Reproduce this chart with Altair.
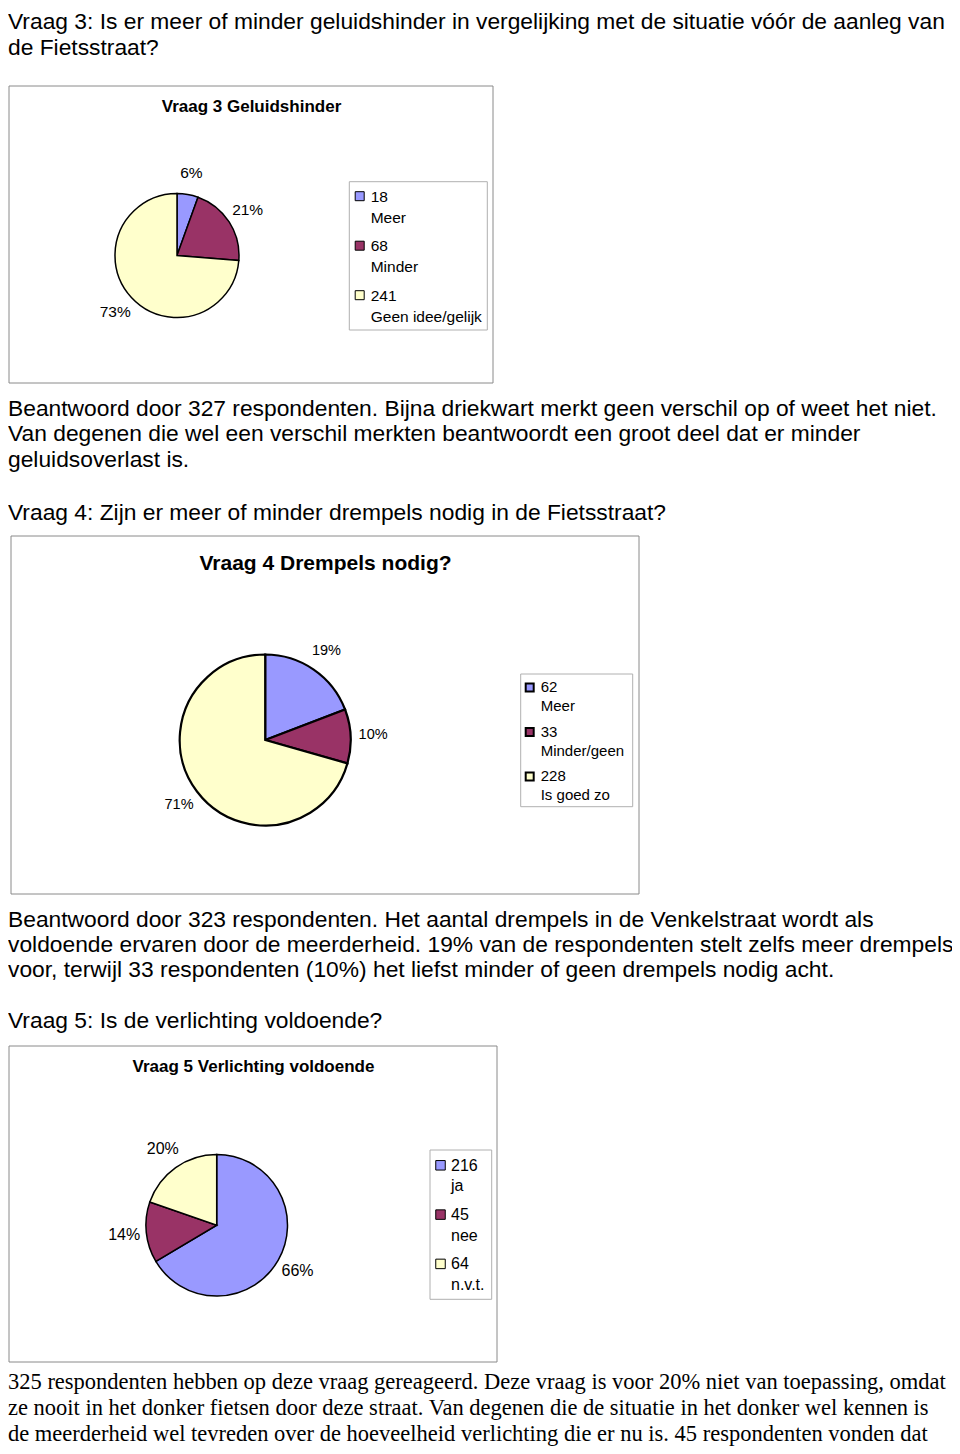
import altair as alt
import pandas as pd

# ---------------- data ----------------
q3_labels = ["Meer", "Minder", "Geen idee/gelijk"]
q3_counts = [18, 68, 241]
q3_pct = ["6%", "21%", "73%"]

q4_labels = ["Meer", "Minder/geen", "Is goed zo"]
q4_counts = [62, 33, 228]
q4_pct = ["19%", "10%", "71%"]

q5_labels = ["ja", "nee", "n.v.t."]
q5_counts = [216, 45, 64]
q5_pct = ["66%", "14%", "20%"]

palette = ["#9999FF", "#993366", "#FFFFCC"]

title_q3 = "Vraag 3 Geluidshinder"
title_q4 = "Vraag 4 Drempels nodig?"
title_q5 = "Vraag 5 Verlichting voldoende"

para_1 = ["Vraag 3: Is er meer of minder geluidshinder in vergelijking met de situatie vóór de aanleg van",
          "de Fietsstraat?"]
para_2 = ["Beantwoord door 327 respondenten. Bijna driekwart merkt geen verschil op of weet het niet.",
          "Van degenen die wel een verschil merkten beantwoordt een groot deel dat er minder",
          "geluidsoverlast is."]
para_3 = ["Vraag 4: Zijn er meer of minder drempels nodig in de Fietsstraat?"]
para_4 = ["Beantwoord door 323 respondenten. Het aantal drempels in de Venkelstraat wordt als",
          "voldoende ervaren door de meerderheid. 19% van de respondenten stelt zelfs meer drempels",
          "voor, terwijl 33 respondenten (10%) het liefst minder of geen drempels nodig acht."]
para_5 = ["Vraag 5: Is de verlichting voldoende?"]
para_6 = ["325 respondenten hebben op deze vraag gereageerd. Deze vraag is voor 20% niet van toepassing, omdat",
          "ze nooit in het donker fietsen door deze straat. Van degenen die de situatie in het donker wel kennen is",
          "de meerderheid wel tevreden over de hoeveelheid verlichting die er nu is. 45 respondenten vonden dat"]

SANS = "Liberation Sans, Arial, Helvetica, sans-serif"
SERIF = "Liberation Serif, Times New Roman, serif"

one = pd.DataFrame({"k": [0]})


def text_block(lines, x, y, size, line_h, font=SANS, weight="normal", align="left"):
    return alt.Chart(one).mark_text(
        text=lines, align=align, baseline="alphabetic", font=font, fontSize=size,
        fontWeight=weight, lineHeight=line_h, color="black"
    ).encode(x=alt.value(x), y=alt.value(y))


def box(x1, x2, y1, y2, stroke="#8a8a8a", sw=1):
    return alt.Chart(one).mark_rect(fill="white", stroke=stroke, strokeWidth=sw).encode(
        x=alt.value(x1), x2=alt.value(x2), y=alt.value(y1), y2=alt.value(y2)
    )


def make_df(labels, counts, pct):
    return pd.DataFrame({"idx": list(range(len(labels))), "label": labels,
                         "count": counts, "pct": pct})


color_enc = alt.Color("idx:N", scale=alt.Scale(domain=[0, 1, 2], range=palette), legend=None)


def pie(df, cx, cy, r, label_r, fsize, sw):
    base = alt.Chart(df).encode(
        theta=alt.Theta("count:Q", stack=True),
        order=alt.Order("idx:Q", sort="ascending"),
        x=alt.value(cx), y=alt.value(cy),
    )
    arcs = base.mark_arc(radius=r, stroke="black", strokeWidth=sw).encode(color=color_enc)
    labels = base.mark_text(radius=label_r, fontSize=fsize, font=SANS, color="black",
                            baseline="middle", align="center").encode(text="pct:N")
    return alt.layer(arcs, labels)


def legend(df, sx, tx, y0, step, line, fsize, sq, sw, sq_dy):
    base = alt.Chart(df).transform_calculate(
        yn=f"{y0} + datum.idx * {step}",
        yl=f"{y0} + datum.idx * {step} + {line}",
        ys=f"{y0} + datum.idx * {step} - {sq_dy}",
    )
    squares = base.mark_square(size=sq * sq, stroke="black", strokeWidth=sw, opacity=1).encode(
        x=alt.value(sx), y=alt.Y("ys:Q", scale=None), color=color_enc)
    nums = base.mark_text(align="left", baseline="alphabetic", font=SANS, fontSize=fsize,
                          color="black").encode(
        x=alt.value(tx), y=alt.Y("yn:Q", scale=None), text="count:Q")
    names = base.mark_text(align="left", baseline="alphabetic", font=SANS, fontSize=fsize,
                           color="black").encode(
        x=alt.value(tx), y=alt.Y("yl:Q", scale=None), text="label:N")
    return alt.layer(squares, nums, names)


df3 = make_df(q3_labels, q3_counts, q3_pct)
df4 = make_df(q4_labels, q4_counts, q4_pct)
df5 = make_df(q5_labels, q5_counts, q5_pct)

layers = [
    # paragraphs
    text_block(para_1, 0, 21, 22.8, 26),
    text_block(para_2, 0, 407.5, 22.8, 25.75),
    text_block(para_3, 0, 511.5, 22.8, 26),
    text_block(para_4, 0, 918.7, 22.8, 25.15),
    text_block(para_5, 0, 1020, 22.8, 26),
    text_block(para_6, 0, 1380.5, 22.5, 26, font=SERIF),
    # chart frames
    box(1, 485, 78, 375),
    box(3, 631, 528, 886),
    box(1, 489, 1038, 1354),
    # titles
    text_block([title_q3], 243.5, 104.3, 17, 20, weight="bold", align="center"),
    text_block([title_q4], 317.5, 562, 21, 24, weight="bold", align="center"),
    text_block([title_q5], 245.5, 1064.3, 17, 20, weight="bold", align="center"),
    # legend frames
    box(341.3, 479.3, 173.7, 322, stroke="#b0b0b0"),
    box(512.7, 624.7, 666, 798.7, stroke="#b0b0b0"),
    box(422, 483.7, 1142, 1291.3, stroke="#b0b0b0"),
    # pies
    pie(df3, 169, 247.5, 62, 84, 15.5, 1.5),
    pie(df4, 257.2, 732, 85.5, 108, 14.5, 2.2),
    pie(df5, 208.7, 1217.2, 70.8, 93, 16, 1.5),
    # legends
    legend(df3, 351.7, 362.7, 193.7, 49.5, 21, 15.5, 9, 1, 5.5),
    legend(df4, 521.7, 532.7, 684, 44.5, 19, 15, 8, 2, 4.5),
    legend(df5, 432.5, 443, 1162.7, 49.3, 20.7, 16, 9.5, 1, 5.4),
]

chart = alt.layer(*layers).resolve_scale(theta="independent").properties(
    width=944, height=1438,
    autosize=alt.AutoSizeParams(type="none"),
    padding=0,
    background="white",
).configure_view(strokeWidth=0)

chart.save("out.html", embed_options={"renderer": "svg", "actions": False})
